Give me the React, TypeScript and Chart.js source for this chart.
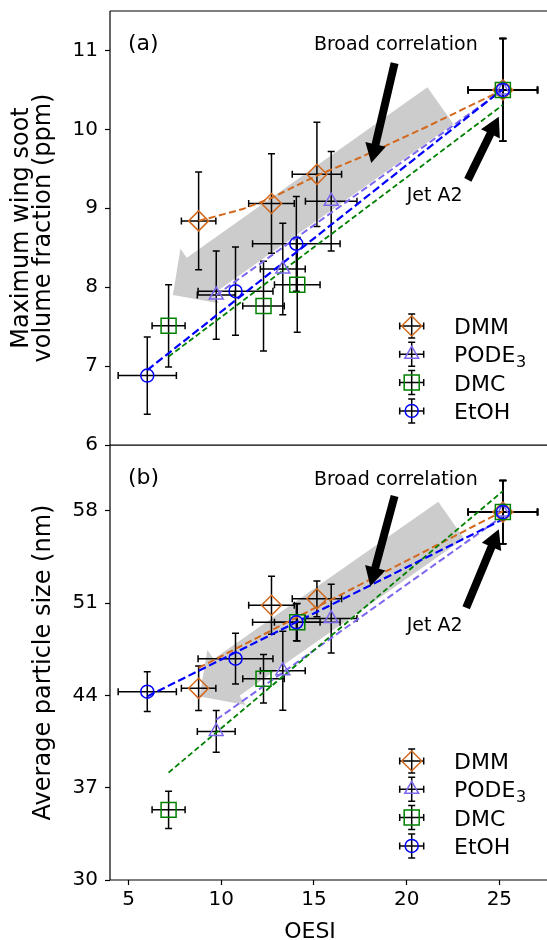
import React, { useEffect, useRef } from "react";
import { Chart, registerables } from "chart.js";

Chart.register(...registerables);

// ---------- Data ----------
const SERIES_NAMES = ["DMM", "PODE", "DMC", "EtOH"];
const SERIES_SUBS = ["", "3", "", ""];
const SERIES_COLORS = ["#d2691e", "#7b68ee", "#008000", "#0000ff"];
const SERIES_STYLES = ["rectRot", "triangle", "rect", "circle"];

const X_TICKS = [5, 10, 15, 20, 25];
const SOOT_TICKS = [6, 7, 8, 9, 10, 11];
const SIZE_TICKS = [30, 37, 44, 51, 58];

// OESI (x) and its uncertainty
const DMM_OESI = [8.78, 12.71, 15.16, 25.19];
const DMM_OESI_ERR = [0.93, 1.23, 1.33, 1.87];
const PODE_OESI = [9.73, 13.32, 15.93, 25.19];
const PODE_OESI_ERR = [1.02, 1.21, 1.39, 1.87];
const DMC_OESI = [7.16, 12.28, 14.1, 25.19];
const DMC_OESI_ERR = [0.89, 1.12, 1.23, 1.87];
const ETOH_OESI = [6.01, 10.77, 14.05, 25.19];
const ETOH_OESI_ERR = [1.57, 2.02, 2.36, 1.87];

// (a) Maximum wing soot volume fraction (ppm)
const DMM_SOOT = [8.84, 9.06, 9.43, 10.5];
const DMM_SOOT_ERR = [0.62, 0.63, 0.66, 0.65];
const PODE_SOOT = [7.9, 8.23, 9.09, 10.5];
const PODE_SOOT_ERR = [0.56, 0.58, 0.63, 0.65];
const DMC_SOOT = [7.51, 7.76, 8.03, 10.5];
const DMC_SOOT_ERR = [0.52, 0.57, 0.6, 0.65];
const ETOH_SOOT = [6.88, 7.95, 8.55, 10.5];
const ETOH_SOOT_ERR = [0.49, 0.56, 0.6, 0.65];

// (b) Average particle size (nm)
const DMM_SIZE = [44.54, 50.84, 51.33, 57.91];
const DMM_SIZE_ERR = [1.69, 2.2, 1.36, 2.4];
const PODE_SIZE = [41.27, 45.88, 49.83, 57.91];
const PODE_SIZE_ERR = [1.58, 3.0, 2.6, 2.4];
const DMC_SIZE = [35.32, 45.27, 49.55, 57.91];
const DMC_SIZE_ERR = [1.42, 1.84, 1.42, 2.4];
const ETOH_SIZE = [44.29, 46.79, 49.55, 57.91];
const ETOH_SIZE_ERR = [1.5, 1.93, 1.4, 2.4];

// Fit lines
const DMM_SOOT_FIT_X = [8.78, 11.16, 12.7, 15.12, 17.46, 21.06, 25.19];
const DMM_SOOT_FIT_Y = [8.84, 8.99, 9.13, 9.41, 9.64, 10.03, 10.5];
const PODE_SOOT_FIT_X = [9.73, 25.19];
const PODE_SOOT_FIT_Y = [7.9, 10.5];
const DMC_SOOT_FIT_X = [7.16, 25.19];
const DMC_SOOT_FIT_Y = [7.12, 10.31];
const ETOH_SOOT_FIT_X = [6.01, 25.19];
const ETOH_SOOT_FIT_Y = [6.95, 10.51];

const DMM_SIZE_FIT_X = [8.78, 25.19];
const DMM_SIZE_FIT_Y = [46.09, 57.98];
const PODE_SIZE_FIT_X = [9.73, 25.19];
const PODE_SIZE_FIT_Y = [42.16, 57.6];
const DMC_SIZE_FIT_X = [7.16, 25.19];
const DMC_SIZE_FIT_Y = [38.15, 59.5];
const ETOH_SIZE_FIT_X = [6.01, 25.19];
const ETOH_SIZE_FIT_Y = [43.93, 57.36];

// Annotations (data coordinates: [tailX, tailY, tipX, tipY])
const GRAY_ARROW_A = [21.82, 10.3, 7.39, 7.9];
const GRAY_ARROW_B = [22.4, 57.3, 8.83, 43.93];
const BROAD_ARROW_A = [19.35, 10.84, 18.09, 9.575];
const BROAD_ARROW_B = [19.35, 59.13, 18.04, 52.29];
const JET_ARROW_A = [23.3, 9.36, 24.97, 10.16];
const JET_ARROW_B = [23.21, 50.65, 24.97, 56.6];
const BROAD_TEXT_A = [15.0, 11.0];
const BROAD_TEXT_B = [15.0, 59.96];
const JET_TEXT_A = [20.0, 9.09];
const JET_TEXT_B = [20.0, 48.87];

const X_MIN = 4;
const X_MAX = 27.57;

// ---------- Styling ----------
const FAM = "'DejaVu Sans', sans-serif";
const TICK_SIZE = 20;
const XLABEL_SIZE = 22;
const YLABEL_SIZE = 24;
const LEGEND_SIZE = 22;
const ANNOT_SIZE = 19;
const LETTER_SIZE = 22;
const MARKER_RADII = [10, 8, 10.6, 6.5];
const FIT_WIDTHS = [2, 2, 1.8, 2.2];
const FIT_DASHES = [
  [7, 3.5],
  [7, 3.5],
  [5.5, 3],
  [8, 3.5],
];

type Panel = {
  letter: string;
  yMin: number;
  yMax: number;
  yTicks: number[];
  xs: number[][];
  xerrs: number[][];
  ys: number[][];
  yerrs: number[][];
  fitX: number[][];
  fitY: number[][];
  gray: number[];
  broad: number[];
  jet: number[];
  broadText: number[];
  jetText: number[];
  yTitle: string[];
  yTitleX: number[];
  showX: boolean;
  padTop: number;
  padBottom: number;
};

const TOP: Panel = {
  letter: "(a)",
  yMin: 6,
  yMax: 11.5,
  yTicks: SOOT_TICKS,
  xs: [DMM_OESI, PODE_OESI, DMC_OESI, ETOH_OESI],
  xerrs: [DMM_OESI_ERR, PODE_OESI_ERR, DMC_OESI_ERR, ETOH_OESI_ERR],
  ys: [DMM_SOOT, PODE_SOOT, DMC_SOOT, ETOH_SOOT],
  yerrs: [DMM_SOOT_ERR, PODE_SOOT_ERR, DMC_SOOT_ERR, ETOH_SOOT_ERR],
  fitX: [DMM_SOOT_FIT_X, PODE_SOOT_FIT_X, DMC_SOOT_FIT_X, ETOH_SOOT_FIT_X],
  fitY: [DMM_SOOT_FIT_Y, PODE_SOOT_FIT_Y, DMC_SOOT_FIT_Y, ETOH_SOOT_FIT_Y],
  gray: GRAY_ARROW_A,
  broad: BROAD_ARROW_A,
  jet: JET_ARROW_A,
  broadText: BROAD_TEXT_A,
  jetText: JET_TEXT_A,
  yTitle: ["Maximum wing soot", "volume fraction (ppm)"],
  yTitleX: [27.5, 49.5],
  showX: false,
  padTop: 11,
  padBottom: 35,
};

const BOTTOM: Panel = {
  letter: "(b)",
  yMin: 30,
  yMax: 63,
  yTicks: SIZE_TICKS,
  xs: [DMM_OESI, PODE_OESI, DMC_OESI, ETOH_OESI],
  xerrs: [DMM_OESI_ERR, PODE_OESI_ERR, DMC_OESI_ERR, ETOH_OESI_ERR],
  ys: [DMM_SIZE, PODE_SIZE, DMC_SIZE, ETOH_SIZE],
  yerrs: [DMM_SIZE_ERR, PODE_SIZE_ERR, DMC_SIZE_ERR, ETOH_SIZE_ERR],
  fitX: [DMM_SIZE_FIT_X, PODE_SIZE_FIT_X, DMC_SIZE_FIT_X, ETOH_SIZE_FIT_X],
  fitY: [DMM_SIZE_FIT_Y, PODE_SIZE_FIT_Y, DMC_SIZE_FIT_Y, ETOH_SIZE_FIT_Y],
  gray: GRAY_ARROW_B,
  broad: BROAD_ARROW_B,
  jet: JET_ARROW_B,
  broadText: BROAD_TEXT_B,
  jetText: JET_TEXT_B,
  yTitle: ["Average particle size (nm)"],
  yTitleX: [49.5],
  showX: true,
  padTop: 0,
  padBottom: 0,
};

// ---------- Drawing helpers ----------
function drawArrow(
  ctx: CanvasRenderingContext2D,
  x0: number, y0: number, x1: number, y1: number,
  shaftW: number, headW: number, headL: number, fill: string
) {
  const dx = x1 - x0, dy = y1 - y0;
  const len = Math.hypot(dx, dy);
  const ux = dx / len, uy = dy / len;
  const nx = -uy, ny = ux;
  const bx = x1 - ux * headL, by = y1 - uy * headL;
  const s = shaftW / 2, h = headW / 2;
  ctx.beginPath();
  ctx.moveTo(x0 + nx * s, y0 + ny * s);
  ctx.lineTo(bx + nx * s, by + ny * s);
  ctx.lineTo(bx + nx * h, by + ny * h);
  ctx.lineTo(x1, y1);
  ctx.lineTo(bx - nx * h, by - ny * h);
  ctx.lineTo(bx - nx * s, by - ny * s);
  ctx.lineTo(x0 - nx * s, y0 - ny * s);
  ctx.closePath();
  ctx.fillStyle = fill;
  ctx.fill();
}

function drawMarker(ctx: CanvasRenderingContext2D, style: string, x: number, y: number, r: number, color: string) {
  ctx.beginPath();
  if (style === "rectRot") {
    ctx.moveTo(x - r, y);
    ctx.lineTo(x, y - r);
    ctx.lineTo(x + r, y);
    ctx.lineTo(x, y + r);
    ctx.closePath();
  } else if (style === "triangle") {
    ctx.moveTo(x, y - r);
    ctx.lineTo(x + 0.866 * r, y + 0.5 * r);
    ctx.lineTo(x - 0.866 * r, y + 0.5 * r);
    ctx.closePath();
  } else if (style === "rect") {
    const s = Math.SQRT1_2 * r;
    ctx.rect(x - s, y - s, 2 * s, 2 * s);
  } else {
    ctx.arc(x, y, r, 0, Math.PI * 2);
  }
  ctx.strokeStyle = color;
  ctx.lineWidth = 1.5;
  ctx.stroke();
}

function drawCross(ctx: CanvasRenderingContext2D, x0: number, x1: number, xc: number, y0: number, y1: number, yc: number) {
  const cap = 3.5;
  ctx.beginPath();
  ctx.moveTo(x0, yc);
  ctx.lineTo(x1, yc);
  ctx.moveTo(x0, yc - cap);
  ctx.lineTo(x0, yc + cap);
  ctx.moveTo(x1, yc - cap);
  ctx.lineTo(x1, yc + cap);
  ctx.moveTo(xc, y0);
  ctx.lineTo(xc, y1);
  ctx.moveTo(xc - cap, y0);
  ctx.lineTo(xc + cap, y0);
  ctx.moveTo(xc - cap, y1);
  ctx.lineTo(xc + cap, y1);
  ctx.strokeStyle = "#000";
  ctx.lineWidth = 1.5;
  ctx.stroke();
}

function makePlugin(p: Panel) {
  return {
    id: "panelDecor",
    beforeDatasetsDraw(chart: any) {
      const ctx: CanvasRenderingContext2D = chart.ctx;
      const xs = chart.scales.x, ys = chart.scales.y;
      const a = chart.chartArea;
      ctx.save();
      ctx.beginPath();
      ctx.rect(a.left, a.top, a.right - a.left, a.bottom - a.top);
      ctx.clip();
      // gray broad arrow
      const g = p.gray;
      drawArrow(
        ctx,
        xs.getPixelForValue(g[0]), ys.getPixelForValue(g[1]),
        xs.getPixelForValue(g[2]), ys.getPixelForValue(g[3]),
        45, 67, 33, "rgba(128,128,128,0.4)"
      );
      // error bars
      for (let s = 0; s < 4; s++) {
        for (let i = 0; i < p.xs[s].length; i++) {
          const x = p.xs[s][i], y = p.ys[s][i];
          const xe = p.xerrs[s][i], ye = p.yerrs[s][i];
          drawCross(
            ctx,
            xs.getPixelForValue(x - xe), xs.getPixelForValue(x + xe), xs.getPixelForValue(x),
            ys.getPixelForValue(y + ye), ys.getPixelForValue(y - ye), ys.getPixelForValue(y)
          );
        }
      }
      ctx.restore();
    },
    afterDatasetsDraw(chart: any) {
      const ctx: CanvasRenderingContext2D = chart.ctx;
      const xs = chart.scales.x, ys = chart.scales.y;
      const a = chart.chartArea;
      ctx.save();
      // black arrows
      for (const ar of [p.broad, p.jet]) {
        drawArrow(
          ctx,
          xs.getPixelForValue(ar[0]), ys.getPixelForValue(ar[1]),
          xs.getPixelForValue(ar[2]), ys.getPixelForValue(ar[3]),
          8, 21, 19, "#000"
        );
      }
      // annotation text
      ctx.fillStyle = "#000";
      ctx.textBaseline = "alphabetic";
      ctx.textAlign = "left";
      ctx.font = `${ANNOT_SIZE}px ${FAM}`;
      ctx.fillText("Broad correlation", xs.getPixelForValue(p.broadText[0]), ys.getPixelForValue(p.broadText[1]));
      ctx.fillText("Jet A2", xs.getPixelForValue(p.jetText[0]), ys.getPixelForValue(p.jetText[1]));
      // panel letter
      ctx.font = `${LETTER_SIZE}px ${FAM}`;
      ctx.fillText(p.letter, a.left + 18, a.top + 39);
      // legend
      const lx = 411.7, tx = 454;
      for (let s = 0; s < 4; s++) {
        const ly = a.bottom - 119 + s * 28.3;
        drawCross(ctx, lx - 12, lx + 12, lx, ly - 12, ly + 12, ly);
        drawMarker(ctx, SERIES_STYLES[s], lx, ly, MARKER_RADII[s], SERIES_COLORS[s]);
        ctx.fillStyle = "#000";
        ctx.font = `${LEGEND_SIZE}px ${FAM}`;
        ctx.textAlign = "left";
        ctx.fillText(SERIES_NAMES[s], tx, ly + 8);
        if (SERIES_SUBS[s]) {
          const w = ctx.measureText(SERIES_NAMES[s]).width;
          ctx.font = `${Math.round(LEGEND_SIZE * 0.72)}px ${FAM}`;
          ctx.fillText(SERIES_SUBS[s], tx + w + 0.5, ly + 13);
        }
      }
      // spines
      ctx.strokeStyle = "#000";
      ctx.lineWidth = 1.2;
      ctx.beginPath();
      ctx.moveTo(a.left, a.top);
      ctx.lineTo(a.right + 2, a.top);
      ctx.moveTo(a.left, a.top);
      ctx.lineTo(a.left, a.bottom);
      ctx.lineTo(a.right + 2, a.bottom);
      ctx.stroke();
      // y title
      ctx.fillStyle = "#000";
      ctx.font = `${YLABEL_SIZE}px ${FAM}`;
      ctx.textAlign = "center";
      ctx.textBaseline = "alphabetic";
      const yc = (a.top + a.bottom) / 2;
      p.yTitle.forEach((t, i) => {
        ctx.save();
        ctx.translate(p.yTitleX[i], yc);
        ctx.rotate(-Math.PI / 2);
        ctx.fillText(t, 0, 0);
        ctx.restore();
      });
      // x title
      if (p.showX) {
        ctx.font = `${XLABEL_SIZE}px ${FAM}`;
        ctx.fillText("OESI", 310, a.bottom + 58.3);
      }
      ctx.restore();
    },
  };
}

function makeConfig(p: Panel): any {
  const datasets: any[] = [];
  for (let s = 0; s < 4; s++) {
    datasets.push({
      label: SERIES_NAMES[s] + " points",
      data: p.xs[s].map((x, i) => ({ x, y: p.ys[s][i] })),
      showLine: false,
      pointStyle: SERIES_STYLES[s],
      pointRadius: MARKER_RADII[s],
      pointBorderWidth: 1.5,
      pointBorderColor: SERIES_COLORS[s],
      pointBackgroundColor: "rgba(0,0,0,0)",
      order: 3 - s,
    });
  }
  for (let s = 0; s < 4; s++) {
    datasets.push({
      label: SERIES_NAMES[s] + " fit",
      data: p.fitX[s].map((x, i) => ({ x, y: p.fitY[s][i] })),
      showLine: true,
      borderColor: SERIES_COLORS[s],
      borderWidth: FIT_WIDTHS[s],
      borderDash: FIT_DASHES[s],
      pointRadius: 0,
      tension: 0,
      fill: false,
      order: 7 - s,
    });
  }
  const tickFont = { family: FAM, size: TICK_SIZE };
  return {
    type: "scatter",
    data: { datasets },
    options: {
      animation: false,
      responsive: true,
      maintainAspectRatio: false,
      events: [],
      layout: { autoPadding: false, padding: { top: p.padTop, bottom: p.padBottom, left: 0, right: 0 } },
      plugins: { legend: { display: false }, tooltip: { enabled: false }, title: { display: false } },
      scales: {
        x: {
          type: "linear",
          min: X_MIN,
          max: X_MAX,
          display: p.showX,
          afterBuildTicks: (sc: any) => {
            sc.ticks = X_TICKS.map((v) => ({ value: v }));
          },
          afterFit: (sc: any) => {
            if (p.showX) sc.height = 60;
            sc.paddingLeft = 0;
            sc.paddingRight = 0;
          },
          ticks: { font: tickFont, color: "#000", padding: 3, maxRotation: 0, autoSkip: false },
          grid: { drawOnChartArea: false, drawTicks: true, tickLength: 5, tickColor: "#000", tickWidth: 1.2 },
          border: { display: false },
        },
        y: {
          type: "linear",
          min: p.yMin,
          max: p.yMax,
          afterBuildTicks: (sc: any) => {
            sc.ticks = p.yTicks.map((v) => ({ value: v }));
          },
          afterFit: (sc: any) => {
            sc.width = 110;
            sc.paddingTop = 0;
            sc.paddingBottom = 0;
          },
          ticks: { font: tickFont, color: "#000", padding: 7, autoSkip: false },
          grid: { drawOnChartArea: false, drawTicks: true, tickLength: 5, tickColor: "#000", tickWidth: 1.2 },
          border: { display: false },
        },
      },
    },
    plugins: [makePlugin(p)],
  };
}

export default function App() {
  const topRef = useRef<HTMLCanvasElement>(null);
  const botRef = useRef<HTMLCanvasElement>(null);
  useEffect(() => {
    const c1 = new Chart(topRef.current as HTMLCanvasElement, makeConfig(TOP));
    const c2 = new Chart(botRef.current as HTMLCanvasElement, makeConfig(BOTTOM));
    return () => {
      c1.destroy();
      c2.destroy();
    };
  }, []);
  return (
    <div style={{ position: "fixed", left: 0, top: 0, width: 547, height: 940, overflow: "hidden", background: "#fff" }}>
      <div style={{ position: "absolute", left: 0, top: 445, width: 547, height: 495 }}>
        <canvas ref={botRef} />
      </div>
      <div style={{ position: "absolute", left: 0, top: 0, width: 547, height: 480 }}>
        <canvas ref={topRef} />
      </div>
    </div>
  );
}
